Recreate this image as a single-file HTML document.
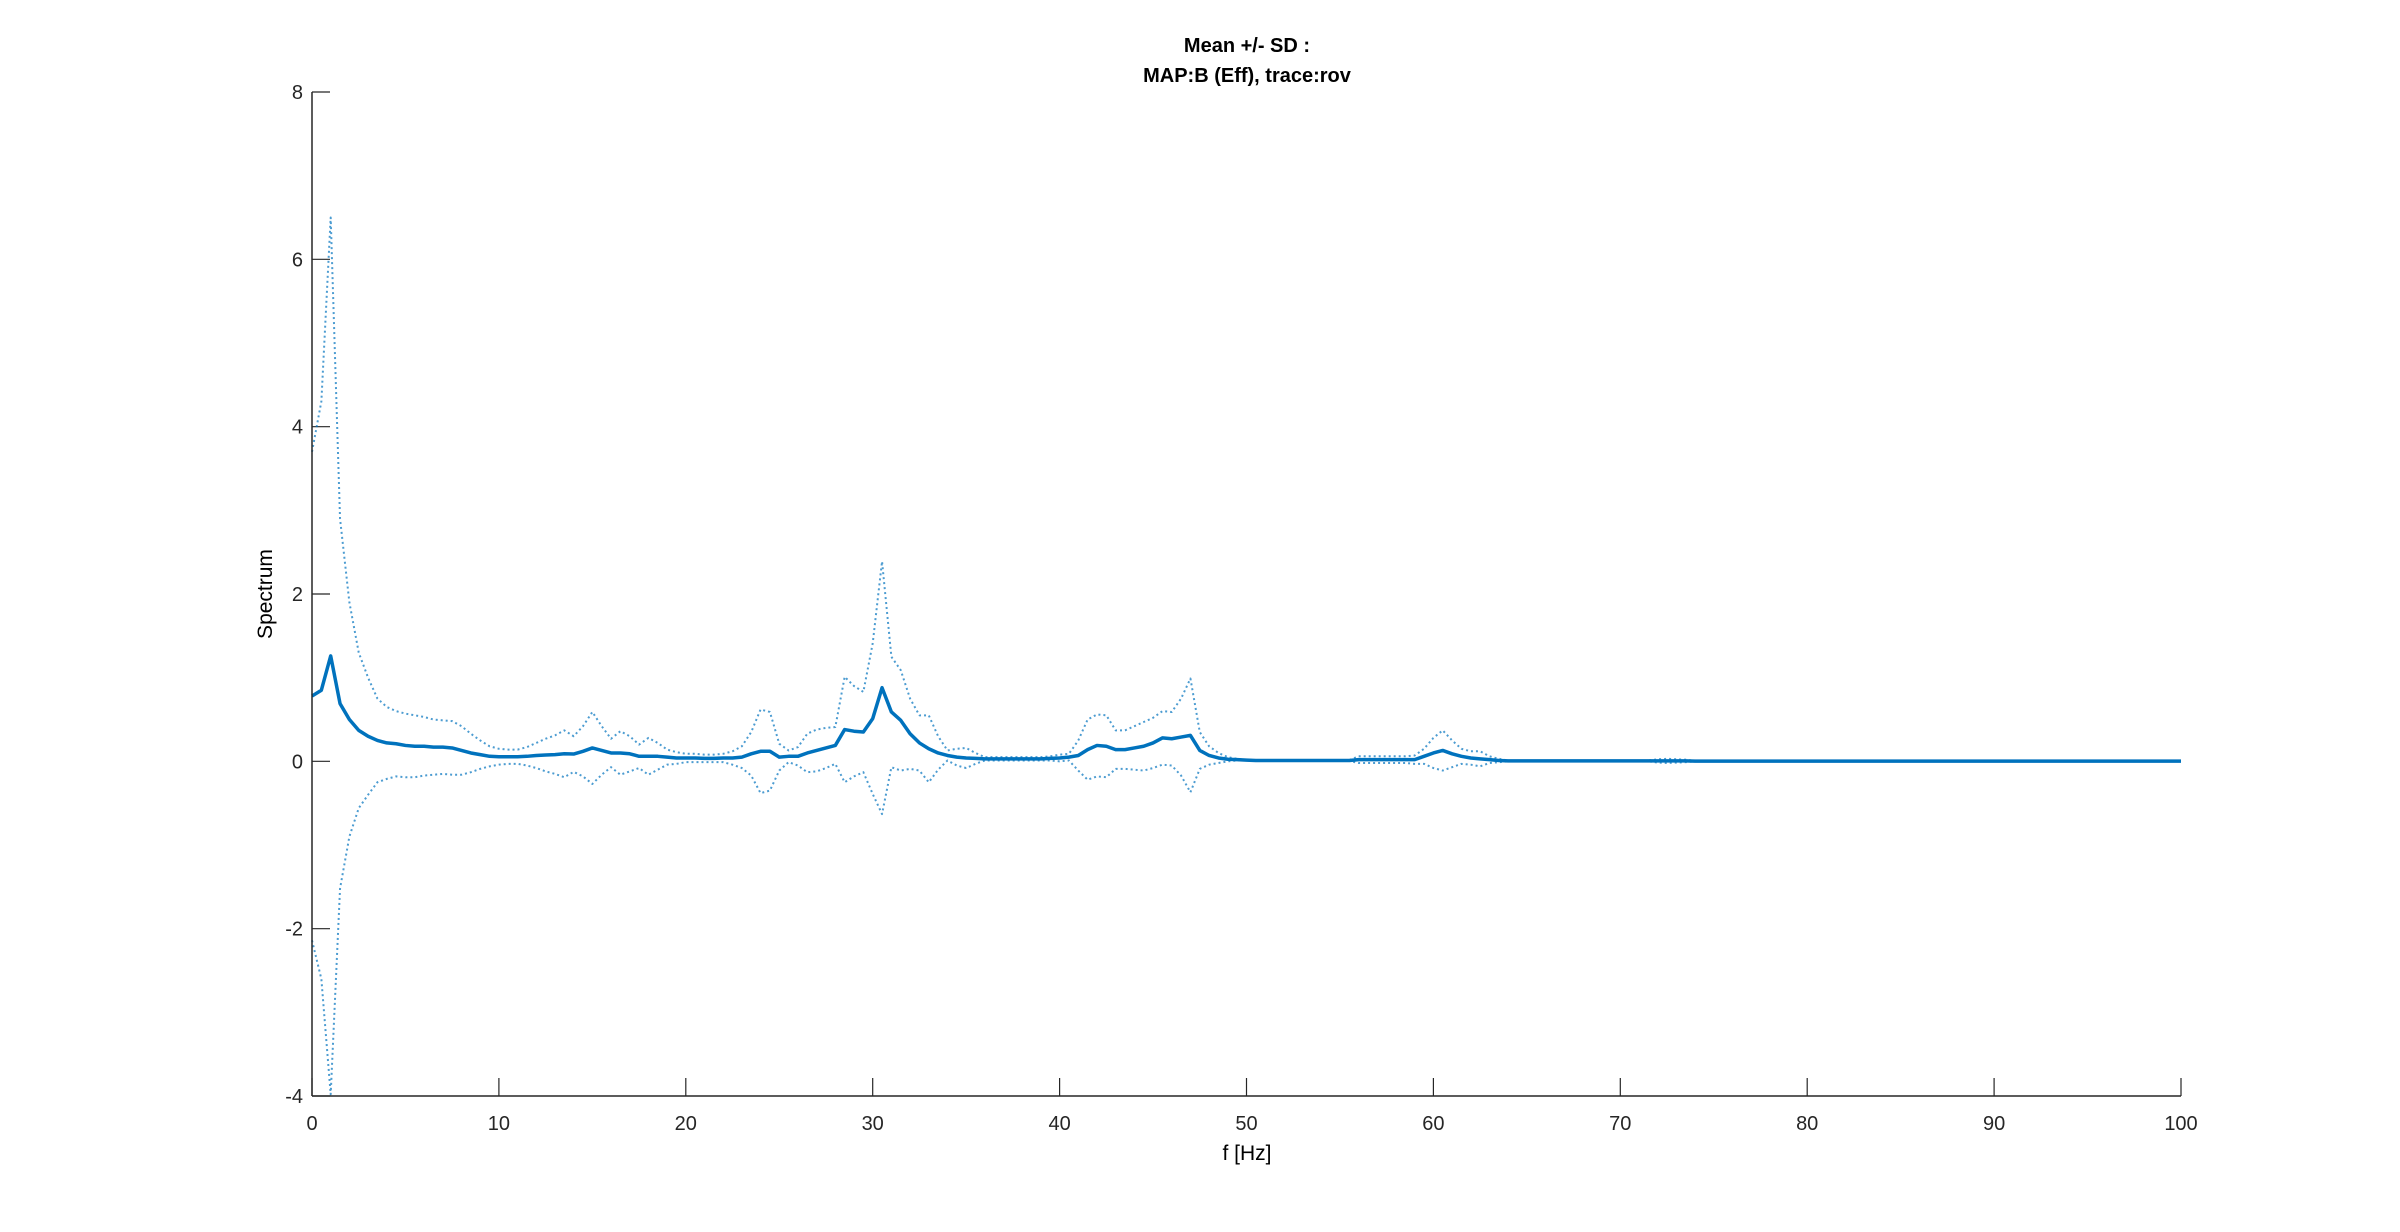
<!DOCTYPE html>
<html><head><meta charset="utf-8"><style>
html,body{margin:0;padding:0;background:#fff;}
svg{display:block;font-family:"Liberation Sans",Arial,sans-serif;}
</style></head><body>
<svg id="chart" width="2400" height="1232" viewBox="0 0 2400 1232">
<rect width="2400" height="1232" fill="#fff"/>
<text x="1247" y="52" text-anchor="middle" font-size="20" font-weight="bold">Mean +/- SD :</text>
<text x="1247" y="82" text-anchor="middle" font-size="20" font-weight="bold">MAP:B (Eff), trace:rov</text>
<text transform="translate(272,594) rotate(-90)" text-anchor="middle" font-size="21">Spectrum</text>
<text x="1247" y="1160" text-anchor="middle" font-size="21">f [Hz]</text>
<g id="ticks"></g>
<g id="series"></g>
<line x1="312" y1="92" x2="312" y2="1096" stroke="#262626" stroke-width="1.5"/>
<line x1="312" y1="1096" x2="2181" y2="1096" stroke="#262626" stroke-width="1.5"/>
</svg>
<script>
const freqStep = 0.5;
const xTicks = [0,10,20,30,40,50,60,70,80,90,100];
const yTicks = [-4,-2,0,2,4,6,8];
const meanVals = [
.78,.85,1.26,.69,.50,.37,.30,.25,.22,.21,.19,.18,.18,.17,.17,.16,.13,.10,.08,.06,
.055,.055,.055,.06,.07,.075,.08,.09,.087,.12,.16,.13,.10,.10,.09,.06,.06,.06,.05,.04,
.04,.04,.035,.035,.04,.04,.05,.09,.12,.12,.05,.06,.06,.10,.13,.16,.19,.38,.36,.35,
.51,.88,.59,.49,.33,.22,.15,.10,.07,.05,.04,.035,.03,.03,.03,.03,.03,.03,.03,.035,
.04,.05,.07,.14,.19,.18,.14,.14,.16,.18,.22,.28,.27,.29,.31,.13,.07,.04,.025,.02,
.015,
.01,.01,.01,.01,.01,.01,.01,.01,.01,.01,.01,
.02,.02,.02,.02,.02,.02,.02,
.06,.10,.13,.09,.06,.04,.03,.02,.01,
.005,.005,.005,.005,.005,.005,.005,.005,.005,.005,.005,.005,.005,.005,.005,.005,
.005,.005,.005,.005,
.003,.003,.003,.003,.003,.003,.003,.003,.003,.003,.003,.003,.003,.003,.003,.003,.003,.003,
.003,.003,.003,.003,.003,.003,.003,.003,.003,.003,.003,.003,.003,.003,.003,.003,.003,.003,
.003,.003,.003,.003,.003,.003,.003,.003,.003,.003,.003,.003,.003,.003,.003,.003,.003
];
const upperVals = [
3.7,4.3,6.5,2.9,1.9,1.3,1.0,.75,.65,.60,.57,.55,.53,.50,.49,.48,.42,.33,.25,.18,
.15,.14,.14,.17,.22,.27,.31,.37,.30,.42,.59,.42,.27,.36,.30,.20,.28,.22,.14,.11,
.09,.09,.08,.08,.09,.12,.18,.35,.62,.59,.21,.13,.17,.33,.38,.40,.41,1.01,.90,.83,
1.41,2.39,1.25,1.09,.75,.55,.55,.30,.13,.15,.16,.10,.05,.05,.05,.05,.05,.05,.05,.06,
.08,.09,.25,.50,.56,.55,.37,.37,.42,.47,.52,.60,.59,.75,.99,.35,.18,.10,.05,.03,
.02,
.015,.015,.015,.015,.015,.015,.015,.015,.015,.015,.015,
.06,.06,.06,.06,.06,.06,.07,
.15,.28,.37,.25,.15,.12,.12,.06,.03,
.01,.01,.01,.01,.01,.01,.01,.01,.01,.01,.01,.01,.01,.01,.01,.01,
.025,.03,.025,.02,
.006,.006,.006,.006,.006,.006,.006,.006,.006,.006,.006,.006,.006,.006,.006,.006,.006,.006,
.006,.006,.006,.006,.006,.006,.006,.006,.006,.006,.006,.006,.006,.006,.006,.006,.006,.006,
.006,.006,.006,.006,.006,.006,.006,.006,.006,.006,.006,.006,.006,.006,.006,.006,.006
];
const X0=312,X1=2181,Y0=92,Y1=1096;
const xS = f => X0 + (f-0)/(100-0)*(X1-X0);
const yS = v => Y1 - (v-(-4))/(8-(-4))*(Y1-Y0);
const NS="http://www.w3.org/2000/svg";
const tg=document.getElementById('ticks');
xTicks.forEach(t=>{
  const l=document.createElementNS(NS,'line');
  l.setAttribute('x1',xS(t));l.setAttribute('x2',xS(t));l.setAttribute('y1',Y1);l.setAttribute('y2',Y1-18);
  l.setAttribute('stroke','#262626');l.setAttribute('stroke-width','1.2');
  
  
  tg.appendChild(l);
  const tx=document.createElementNS(NS,'text');
  tx.setAttribute('x',xS(t));tx.setAttribute('y',1130);tx.setAttribute('text-anchor','middle');tx.setAttribute('font-size','20');tx.setAttribute('fill','#262626');
  tx.textContent=t;
  
  
  tg.appendChild(tx);
});
yTicks.forEach(t=>{
  const l=document.createElementNS(NS,'line');
  l.setAttribute('x1',X0);l.setAttribute('x2',X0+18);l.setAttribute('y1',yS(t));l.setAttribute('y2',yS(t));
  l.setAttribute('stroke','#262626');l.setAttribute('stroke-width','1.2');
  
  
  tg.appendChild(l);
  const tx=document.createElementNS(NS,'text');
  tx.setAttribute('x',303);tx.setAttribute('y',yS(t)+7);tx.setAttribute('text-anchor','end');tx.setAttribute('font-size','20');tx.setAttribute('fill','#262626');
  tx.textContent=t;
  
  
  tg.appendChild(tx);
});
const sg=document.getElementById('series');
function mk(vals,name,w,dash,op){
  const d=vals.map((v,i)=>(i?'L':'M')+xS(i*freqStep).toFixed(2)+','+yS(v).toFixed(2)).join('');
  const p=document.createElementNS(NS,'path');
  p.setAttribute('d',d);p.setAttribute('fill','none');p.setAttribute('stroke','#0072BD');
  p.setAttribute('stroke-width',w);p.setAttribute('stroke-linejoin','round');
  if(dash)p.setAttribute('stroke-dasharray',dash);
  p.setAttribute('opacity',op);
  
  
  sg.appendChild(p);
}
const lowerVals = meanVals.map((m,i)=>2*m-upperVals[i]);
mk(upperVals,'mean-plus-sd-line',2,'2,3',0.7);
mk(lowerVals,'mean-minus-sd-line',2,'2,3',0.7);
mk(meanVals,'mean-line',3.5,null,1);
</script>
</body></html>
